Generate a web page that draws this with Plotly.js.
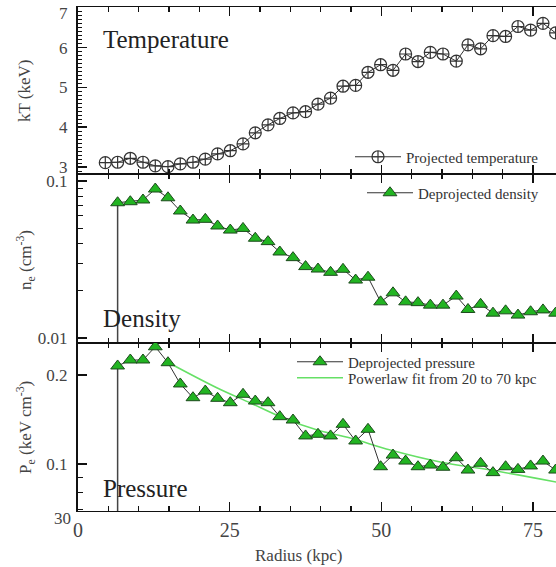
<!DOCTYPE html>
<html>
<head>
<meta charset="utf-8">
<script src="https://cdn.plot.ly/plotly-3.0.1.min.js"></script>
<style>
html, body { margin:0; padding:0; overflow:hidden; background:#fff; }
#chart { width:570px; height:567px; }
#chart svg text { font-family: 'Liberation Serif' !important; }
</style>
</head>
<body>
<div id="chart"></div>
<script>
// Radii of the annuli (kpc)
const radius = [4.50, 6.53, 8.62, 10.71, 12.74, 14.83, 16.86, 18.95, 20.98, 23.01, 25.10, 27.20, 29.22, 31.32, 33.26, 35.44, 37.51, 39.56, 41.63, 43.68, 45.76, 47.80, 49.88, 51.92, 54.00, 56.04, 58.07, 60.16, 62.35, 64.28, 66.36, 68.40, 70.48, 72.52, 74.60, 76.64, 78.72];
// Projected temperature (keV), one per radius
const temperature = [3.11, 3.12, 3.22, 3.12, 3.03, 3.01, 3.08, 3.12, 3.20, 3.33, 3.41, 3.58, 3.86, 4.06, 4.22, 4.36, 4.39, 4.58, 4.73, 5.03, 5.05, 5.38, 5.57, 5.43, 5.84, 5.65, 5.88, 5.84, 5.66, 6.07, 5.97, 6.30, 6.28, 6.53, 6.44, 6.61, 6.37];
// Deprojected density (cm^-3), starts at second radius
const density = [0.0727, 0.0738, 0.0757, 0.0889, 0.0782, 0.0644, 0.0564, 0.0570, 0.0517, 0.0487, 0.0499, 0.0432, 0.0411, 0.0353, 0.0325, 0.0285, 0.0275, 0.0262, 0.0274, 0.0234, 0.0244, 0.0170, 0.0194, 0.0170, 0.0168, 0.0162, 0.0162, 0.0185, 0.0152, 0.0164, 0.0144, 0.0149, 0.0140, 0.0147, 0.0151, 0.0144];
// Deprojected pressure (keV cm^-3), starts at second radius
const pressure = [0.2144, 0.2246, 0.2246, 0.2489, 0.2199, 0.1864, 0.1675, 0.1764, 0.1667, 0.1611, 0.1720, 0.1632, 0.1611, 0.1445, 0.1408, 0.1244, 0.1260, 0.1244, 0.1362, 0.1196, 0.1310, 0.0979, 0.1072, 0.1023, 0.0979, 0.0992, 0.0975, 0.1050, 0.0954, 0.1006, 0.0935, 0.0979, 0.0959, 0.0985, 0.1023, 0.0954];
// Power-law fit curve
const fitRadius = [14.72, 22.96, 28.40, 33.84, 39.45, 44.88, 51.48, 59.72, 67.96, 78.84];
const fitPressure = [0.2211, 0.1806, 0.1608, 0.1430, 0.1302, 0.1224, 0.1115, 0.1016, 0.0954, 0.0869];
// Tick labels
const xTicks = [0, 25, 50, 75];
const tTicks = [3, 4, 5, 6, 7];
const tTickText = ['3', '4', '5', '6', '7'];
const nTicks = [0.01, 0.1];
const nTickText = ['0.01', '0.1'];
const nMinor = [0.02, 0.03, 0.04, 0.05, 0.06, 0.07, 0.08, 0.09];
const pTicks = [0.1, 0.2];
const pTickText = ['0.1', '0.2'];
const pMinor = [0.07, 0.08, 0.09];

const dpRadius = radius.slice(1);
const SERIF = 'Liberation Serif';
const green = '#22b422';
const greenEdge = '#1c4a1c';

// lower error bar on the innermost bin running to zero
const dropMinus = arr => arr.map((v, i) => i === 0 ? v : 0);

const traces = [
  {
    x: radius, y: temperature, xaxis: 'x', yaxis: 'y',
    type: 'scatter', mode: 'lines+markers', name: 'Projected temperature',
    line: {color: '#333', width: 1},
    marker: {symbol: 'circle-cross-open', size: 12, color: '#333', line: {width: 1.2, color: '#333'}},
    legend: 'legend'
  },
  {
    x: dpRadius, y: density, xaxis: 'x2', yaxis: 'y2',
    type: 'scatter', mode: 'lines+markers', name: 'Deprojected density',
    line: {color: '#333', width: 1},
    marker: {symbol: 'triangle-up', size: 12, color: green, line: {width: 1, color: greenEdge}},
    error_y: {type: 'data', symmetric: false, array: density.map(() => 0), arrayminus: dropMinus(density), width: 0, thickness: 1.5, color: '#444'},
    legend: 'legend2'
  },
  {
    x: fitRadius, y: fitPressure, xaxis: 'x3', yaxis: 'y3',
    type: 'scatter', mode: 'lines', name: 'Powerlaw fit from 20 to 70 kpc',
    line: {color: '#66e066', width: 1.6, shape: 'spline'},
    legend: 'legend4'
  },
  {
    x: dpRadius, y: pressure, xaxis: 'x3', yaxis: 'y3',
    type: 'scatter', mode: 'lines+markers', name: 'Deprojected pressure',
    line: {color: '#333', width: 1},
    marker: {symbol: 'triangle-up', size: 12, color: green, line: {width: 1, color: greenEdge}},
    error_y: {type: 'data', symmetric: false, array: pressure.map(() => 0), arrayminus: dropMinus(pressure), width: 0, thickness: 1.5, color: '#444'},
    legend: 'legend3'
  }
];

const W = 570, X0 = 78, PW = 488, YB = 511, PH = 504;
const px = v => (v - X0) / PW;
const py = v => (YB - v) / PH;

const xCommon = (anchor, labels) => ({
  anchor: anchor, range: [0, PW / 6.067],
  tickvals: xTicks, showticklabels: labels,
  ticks: 'inside', ticklen: 9, tickwidth: 1.5, tickcolor: '#111',
  minor: {dtick: 5, tick0: 0, ticks: 'inside', ticklen: 5, tickwidth: 1.2, tickcolor: '#111'},
  showline: true, linewidth: 1, linecolor: '#111', mirror: 'ticks',
  showgrid: false, zeroline: false,
  tickfont: {family: SERIF, size: 20, color: '#444'},
  ticklabelstandoff: 1
});
const yCommon = {
  ticks: 'inside', ticklen: 9, tickwidth: 1.5, tickcolor: '#111',
  showline: true, linewidth: 2, linecolor: '#111', mirror: 'ticks',
  showgrid: false, zeroline: false,
  tickfont: {family: SERIF, size: 17, color: '#444'},
  ticklabelstandoff: 5
};

const legendCommon = (x, y) => ({
  x: px(x), y: py(y), xanchor: 'left', yanchor: 'middle',
  bgcolor: 'rgba(0,0,0,0)', borderwidth: 0, itemwidth: 46,
  font: {family: SERIF, size: 15, color: '#333'}
});

const ann = (text, x, y, size, extra) => Object.assign({
  text: text, xref: 'paper', yref: 'paper', x: px(x), y: py(y),
  showarrow: false, font: {family: SERIF, size: size, color: '#222'}
}, extra || {});
const axFont = {family: SERIF, size: 17, color: '#444'};

const layout = {
  width: W, height: 567,
  margin: {l: X0, r: W - X0 - PW, t: 7, b: 567 - YB},
  paper_bgcolor: '#fff', plot_bgcolor: '#fff',
  font: {family: SERIF, color: '#444'},
  showlegend: true,
  xaxis: xCommon('y', false),
  xaxis2: xCommon('y2', false),
  xaxis3: xCommon('y3', true),
  yaxis: Object.assign({}, yCommon, {
    domain: [0.66865, 1], range: [2.825, 7.02], tickvals: tTicks,
    ticktext: tTickText.map((t, i) => i === tTickText.length - 1 ? '' : t),
    minor: {dtick: 0.1, tick0: 0, ticks: 'inside', ticklen: 4, tickwidth: 1, tickcolor: '#111'}
  }),
  yaxis2: Object.assign({}, yCommon, {
    type: 'log', domain: [0.3333, 0.66865], range: [-2.0318, -0.9554],
    tickvals: nTicks, ticktext: nTickText,
    minor: {tickvals: nMinor, ticks: 'inside', ticklen: 5, tickwidth: 1, tickcolor: '#111'}
  }),
  yaxis3: Object.assign({}, yCommon, {
    type: 'log', domain: [0, 0.3333], range: [-1.1588, -0.5912],
    tickvals: pTicks, ticktext: pTickText,
    minor: {tickvals: pMinor, ticks: 'inside', ticklen: 5, tickwidth: 1, tickcolor: '#111'}
  }),
  legend: legendCommon(350, 157),
  legend2: legendCommon(362, 193),
  legend3: legendCommon(292, 362),
  legend4: legendCommon(292, 378),
  annotations: [
    ann('Temperature', 101, 40, 25, {xanchor: 'left', yanchor: 'middle'}),
    ann('Density', 101, 318, 25, {xanchor: 'left', yanchor: 'middle'}),
    ann('Pressure', 101, 488, 25, {xanchor: 'left', yanchor: 'middle'}),
    ann(tTickText[tTickText.length - 1], 70, 14, 17, {xanchor: 'right', yanchor: 'middle', font: axFont}),
    ann('kT (keV)', 25, 91, 17, {textangle: -90, xanchor: 'center', yanchor: 'middle', font: axFont}),
    ann('n<sub>e</sub> (cm<sup>-3</sup>)', 25, 260, 17, {textangle: -90, xanchor: 'center', yanchor: 'middle', font: axFont}),
    ann('P<sub>e</sub> (keV cm<sup>-3</sup>)', 25, 428, 17, {textangle: -90, xanchor: 'center', yanchor: 'middle', font: axFont}),
    ann('Radius (kpc)', 298, 555, 17, {xanchor: 'center', yanchor: 'middle', font: axFont}),
    ann('30', 62, 518, 17, {xanchor: 'center', yanchor: 'middle', font: axFont})
  ]
};

Plotly.newPlot('chart', traces, layout, {displayModeBar: false, staticPlot: true});
</script>
</body>
</html>
